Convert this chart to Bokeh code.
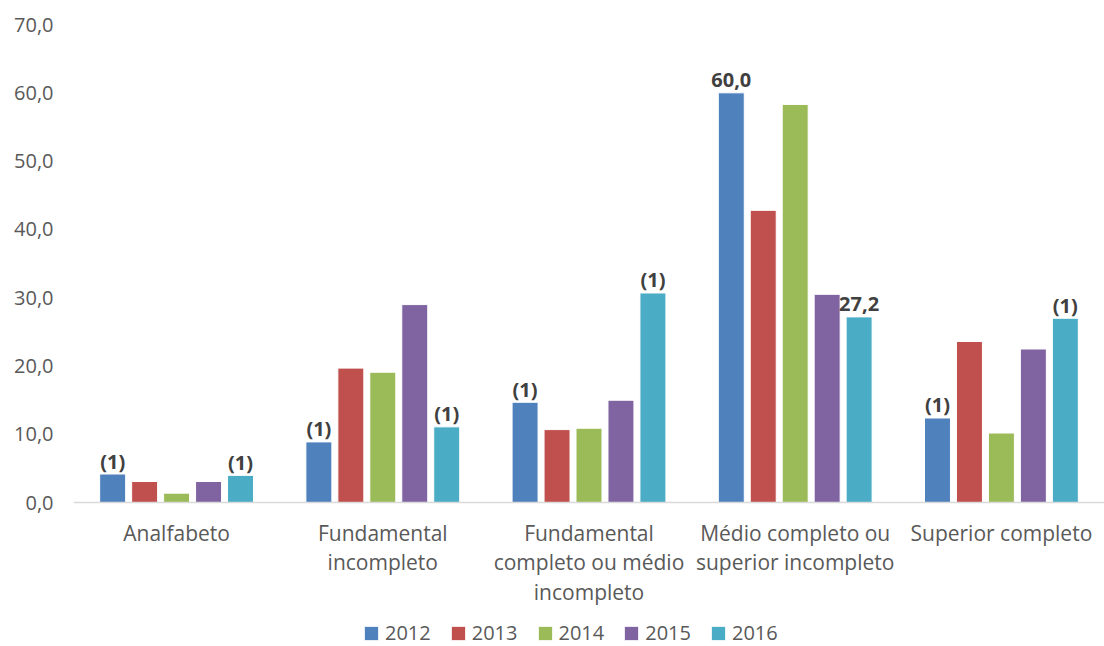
from bokeh.plotting import figure
from bokeh.models import (ColumnDataSource, Range1d, FixedTicker, CustomJSTickFormatter, Legend,
                          LegendItem)
from bokeh.transform import dodge
from bokeh.core.properties import value
from bokeh.embed import file_html
from bokeh.resources import INLINE

categories = ["Analfabeto", "Fundamental\nincompleto", "Fundamental\ncompleto ou médio\nincompleto",
              "Médio completo ou\nsuperior incompleto", "Superior completo"]
years = ["2012", "2013", "2014", "2015", "2016"]
v2012 = [4.2, 8.9, 14.7, 60.0, 12.4]
v2013 = [3.1, 19.7, 10.7, 42.8, 23.6]
v2014 = [1.4, 19.1, 10.9, 58.3, 10.2]
v2015 = [3.1, 29.0, 15.0, 30.5, 22.5]
v2016 = [4.0, 11.1, 30.7, 27.2, 27.0]
labels2012 = ["(1)", "(1)", "(1)", "60,0", "(1)"]
labels2016 = ["(1)", "(1)", "(1)", "27,2", "(1)"]
y_ticks = [0, 10, 20, 30, 40, 50, 60, 70]

colors = ["#4F81BD", "#C0504D", "#9BBB59", "#8064A2", "#4BACC6"]
offsets = [-0.31, -0.155, 0.0, 0.155, 0.31]
FONT = "Open Sans"
TXT = "#595959"

src = ColumnDataSource(dict(cat=categories, v2012=v2012, v2013=v2013, v2014=v2014,
                            v2015=v2015, v2016=v2016, l2012=labels2012, l2016=labels2016))

# the frame reaches the page bottom; the x axis sits at y = 0 and the room below it
# holds the category labels and the legend
p = figure(x_range=categories, y_range=Range1d(-21.05, 70), frame_width=1031, frame_height=622,
           output_backend="svg", toolbar_location=None,
           min_border_left=73, min_border_right=0, min_border_top=24, min_border_bottom=0)
p.outline_line_color = None
p.xgrid.grid_line_color = None
p.ygrid.grid_line_color = None
p.x_range.range_padding = 0.0

items = []
for yr, col, off in zip(years, colors, offsets):
    r = p.vbar(x=dodge("cat", off, range=p.x_range), top="v" + yr, width=0.126, source=src,
               fill_color=col, line_color="white", line_width=1)
    items.append(LegendItem(label=yr, renderers=[r]))

for yr, off in [("2012", offsets[0]), ("2016", offsets[4])]:
    p.text(x=dodge("cat", off, range=p.x_range), y="v" + yr, text="l" + yr, source=src,
           y_offset=-13, text_align="center", text_baseline="alphabetic",
           text_font=value(FONT), text_font_style="bold", text_font_size="20px",
           text_color="#404040")

p.yaxis.ticker = FixedTicker(ticks=y_ticks)
p.yaxis.formatter = CustomJSTickFormatter(code="return tick.toFixed(1).replace('.', ',');")
p.yaxis.axis_line_color = None
p.yaxis.major_tick_line_color = None
p.yaxis.minor_tick_line_color = None
p.yaxis.major_tick_out = 0
p.yaxis.major_label_standoff = 20
p.yaxis.major_label_text_font = FONT
p.yaxis.major_label_text_font_size = "20px"
p.yaxis.major_label_text_color = TXT

p.xaxis.fixed_location = 0
p.xaxis.axis_line_color = "#D9D9D9"
p.xaxis.axis_line_width = 1.5
p.xaxis.major_tick_line_color = None
p.xaxis.minor_tick_line_color = None
p.xaxis.major_tick_out = 0
p.xaxis.major_tick_in = 0
p.xaxis.major_label_standoff = 16
p.xaxis.major_label_text_font = FONT
p.xaxis.major_label_text_font_size = "21px"
p.xaxis.major_label_text_color = TXT
p.xaxis.major_label_text_line_height = 1.06

legend = Legend(items=items, orientation="horizontal", location=(289, 0),
                label_text_font=FONT, label_text_font_size="20px", label_text_color=TXT,
                glyph_width=18, glyph_height=18, spacing=18, label_standoff=5,
                border_line_color=None, background_fill_alpha=0, margin=0, padding=0)
p.add_layout(legend, "center")

open("out.html", "w").write(file_html(p, INLINE))
